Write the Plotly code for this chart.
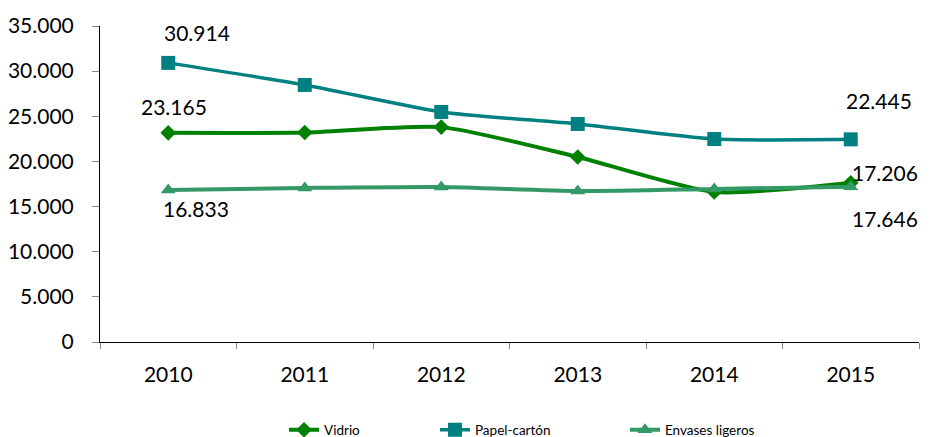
import plotly.graph_objects as go

# datos
years = ["2010", "2011", "2012", "2013", "2014", "2015"]
vidrio = [23165, 23200, 23800, 20490, 16620, 17646]
papel = [30914, 28470, 25480, 24150, 22480, 22445]
envases = [16833, 17060, 17170, 16720, 16950, 17206]

font = "Lato, 'Open Sans', sans-serif"

fig = go.Figure()

fig.add_trace(go.Scatter(x=years, y=vidrio, name="Vidrio", mode="lines+markers", legend="legend",
                         line=dict(color="#008000", width=4, shape="spline", smoothing=0.6),
                         marker=dict(symbol="diamond", size=12, color="#008000")))
fig.add_trace(go.Scatter(x=years, y=papel, name="Papel-cartón", mode="lines+markers", legend="legend2",
                         line=dict(color="#008080", width=3.5, shape="spline", smoothing=0.6),
                         marker=dict(symbol="square", size=14, color="#008080")))
fig.add_trace(go.Scatter(x=years, y=envases, name="Envases ligeros", mode="lines+markers", legend="legend3",
                         line=dict(color="#339966", width=4, shape="spline", smoothing=0.6),
                         marker=dict(symbol="triangle-up", size=13, color="#339966")))


def label(serie, i, dx, dy):
    # etiqueta de dato (formato con punto de miles)
    v = serie[i]
    fig.add_annotation(x=i, y=v, xref="x", yref="y", text=f"{v:,}".replace(",", "."),
                       showarrow=False, xshift=dx, yshift=dy,
                       font=dict(family=font, size=21, color="#000000"))


label(papel, 0, 29, 30)
label(vidrio, 0, 6, 26)
label(envases, 0, 28, -18)
label(papel, 5, 28, 39)
label(envases, 5, 34, 14)
label(vidrio, 5, 34, -36)


def leyenda(x):
    return dict(orientation="h", x=x, xanchor="left", xref="paper",
                y=0.016, yanchor="middle", yref="container",
                font=dict(family=font, size=13.5), itemwidth=30, bgcolor="rgba(0,0,0,0)")


fig.update_layout(
    width=932, height=437,
    margin=dict(l=100, r=13, t=26, b=95, autoexpand=False),
    paper_bgcolor="white", plot_bgcolor="white",
    separators=",.",
    font=dict(family=font, size=21, color="#000000"),
    showlegend=True,
    legend=leyenda(0.2247), legend2=leyenda(0.409), legend3=leyenda(0.641),
)

fig.update_xaxes(type="category", showline=True, linecolor="#000000", linewidth=1,
                 ticks="outside", tickson="boundaries", ticklen=6, tickcolor="#868686",
                 showgrid=False, tickfont=dict(size=21), range=[-0.5, 5.5],
                 ticklabelstandoff=14, automargin=False)
fig.update_yaxes(range=[0, 35000], dtick=5000, tickformat=",d", showline=True,
                 linecolor="#000000", linewidth=1, ticks="outside", ticklen=7,
                 tickcolor="#868686", showgrid=False, zeroline=False,
                 tickfont=dict(size=21), ticklabelstandoff=14, automargin=False)

# sin margen del body para que la figura empiece en (0, 0)
fig.write_html("out.html", config={"displayModeBar": False},
               post_script="document.body.style.margin='0';")
